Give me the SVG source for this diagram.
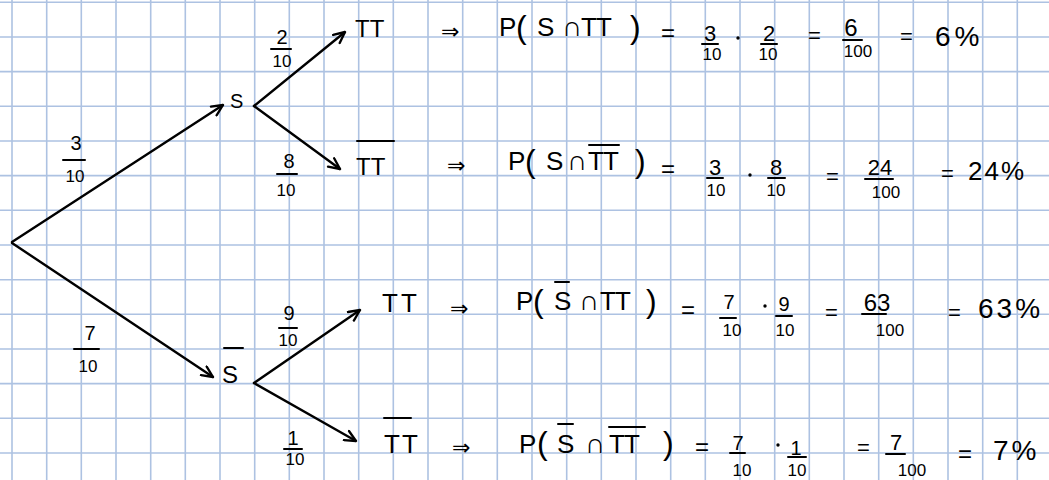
<svg xmlns="http://www.w3.org/2000/svg" width="1049" height="480" viewBox="0 0 1049 480">
<style>
.g{stroke:#adc2e2;stroke-width:1.6}
.t{font-family:"Liberation Sans","DejaVu Sans",sans-serif;fill:#000}
.c{text-anchor:middle}
.ln{stroke:#000;stroke-width:2.4;fill:none;stroke-linecap:round}
.bar{stroke:#000;stroke-width:2;stroke-linecap:round}
.s26{font-size:26px}.s24{font-size:24px}.s22{font-size:22px}.s20{font-size:20px}.s17{font-size:17px}.s28{font-size:28px}.s32{font-size:32px}
.cap{font-size:28px}
</style>
<defs>
<marker id="ah" viewBox="0 0 10 10" refX="9.5" refY="5" markerWidth="13" markerHeight="13" markerUnits="userSpaceOnUse" orient="auto">
<path d="M1,1 L9.5,5 L1,9" fill="none" stroke="#000" stroke-width="1.8" stroke-linecap="round" stroke-linejoin="round"/>
</marker>
</defs>
<rect width="1049" height="480" fill="#fff"/>
<g id="grid">
<path class="g" d="M12,0V480M46.7,0V480M81.3,0V480M116,0V480M150.7,0V480M185.3,0V480M220,0V480M254.7,0V480M289.3,0V480M324,0V480M358.7,0V480M393.3,0V480M428,0V480M462.7,0V480M497.3,0V480M532,0V480M566.7,0V480M601.3,0V480M636,0V480M670.7,0V480M705.3,0V480M740,0V480M774.7,0V480M809.3,0V480M844,0V480M878.7,0V480M913.3,0V480M948,0V480M982.7,0V480M1017.3,0V480"/>
<path class="g" d="M0,2.3H1049M0,37H1049M0,71.6H1049M0,106.3H1049M0,141H1049M0,175.6H1049M0,210.3H1049M0,245H1049M0,279.7H1049M0,314.3H1049M0,349H1049M0,383.6H1049M0,418.3H1049M0,453H1049"/>
</g>
<g id="connectors">
<line class="ln" x1="12" y1="242" x2="223" y2="105" marker-end="url(#ah)"/>
<line class="ln" x1="254" y1="106" x2="345" y2="32" marker-end="url(#ah)"/>
<line class="ln" x1="254" y1="106" x2="340" y2="169" marker-end="url(#ah)"/>
<line class="ln" x1="12" y1="243" x2="213" y2="377" marker-end="url(#ah)"/>
<line class="ln" x1="254" y1="383" x2="360" y2="310" marker-end="url(#ah)"/>
<line class="ln" x1="254" y1="383" x2="356" y2="441" marker-end="url(#ah)"/>
</g>
<g id="edge-labels">
<text class="t c s20" x="76" y="150">3</text><line class="bar" x1="63" y1="160" x2="85" y2="160"/><text class="t c s17" x="75" y="182">10</text>
<text class="t c s20" x="90" y="340">7</text><line class="bar" x1="74" y1="349" x2="99" y2="349"/><text class="t c s17" x="88" y="372">10</text>
<text class="t c s20" x="282" y="44">2</text><line class="bar" x1="271" y1="49" x2="291" y2="49"/><text class="t c s17" x="282" y="67">10</text>
<text class="t c s20" x="289" y="168">8</text><line class="bar" x1="277" y1="174" x2="297" y2="174"/><text class="t c s17" x="286" y="196">10</text>
<text class="t c s20" x="289" y="320">9</text><line class="bar" x1="279" y1="328" x2="297" y2="328"/><text class="t c s17" x="288" y="346">10</text>
<text class="t c s20" x="293" y="445">1</text><line class="bar" x1="284" y1="449" x2="302" y2="449"/><text class="t c s17" x="295" y="465">10</text>
</g>
<g id="node-S"><text class="t s20" x="230" y="108">S</text></g>
<g id="node-Sbar"><text class="t s24" x="222" y="383">S</text><line class="bar" x1="224" y1="348" x2="243" y2="348"/></g>
<g id="leaf-1">
<text class="t s24" x="355" y="37">TT</text>
<text class="t s22" x="441" y="39">⇒</text>
<text class="t s26" y="36"><tspan x="499">P</tspan><tspan x="537">S</tspan><tspan class="cap" x="562">∩</tspan><tspan x="581">T</tspan><tspan x="596">T</tspan></text>
<text class="t s32" x="516" y="38">(</text><text class="t s32" x="630" y="38">)</text>
<text class="t s24" x="661" y="41">=</text>
<text class="t c s22" x="710" y="41">3</text><line class="bar" x1="702" y1="44" x2="718" y2="44"/><text class="t c s17" x="712" y="60">10</text>
<circle cx="738" cy="38" r="1.7"/>
<text class="t c s22" x="769" y="41">2</text><line class="bar" x1="761" y1="44" x2="777" y2="44"/><text class="t c s17" x="768" y="60">10</text>
<text class="t s22" x="808" y="43">=</text>
<text class="t c s24" x="851" y="36">6</text><line class="bar" x1="843" y1="40" x2="862" y2="40"/><text class="t c s17" x="858" y="57">100</text>
<text class="t s22" x="900" y="44">=</text>
<text class="t s28" x="935" y="46" letter-spacing="4">6%</text>
</g>
<g id="leaf-2">
<text class="t s24" x="356" y="175">TT</text><line class="bar" x1="357" y1="141" x2="394" y2="141"/>
<text class="t s22" x="447" y="173">⇒</text>
<text class="t s26" y="170"><tspan x="508">P</tspan><tspan x="546">S</tspan><tspan class="cap" x="567">∩</tspan><tspan x="588">T</tspan><tspan x="603">T</tspan></text>
<text class="t s32" x="525" y="172">(</text><text class="t s32" x="635" y="172">)</text>
<line class="bar" x1="589" y1="145" x2="619" y2="145"/>
<text class="t s24" x="661" y="177">=</text>
<text class="t c s22" x="715" y="175">3</text><line class="bar" x1="707" y1="178" x2="723" y2="178"/><text class="t c s17" x="716" y="196">10</text>
<circle cx="750" cy="175" r="1.7"/>
<text class="t c s22" x="776" y="175">8</text><line class="bar" x1="768" y1="178" x2="785" y2="178"/><text class="t c s17" x="776" y="196">10</text>
<text class="t s22" x="826" y="184">=</text>
<text class="t c s22" x="880" y="175">24</text><line class="bar" x1="865" y1="179" x2="893" y2="179"/><text class="t c s17" x="886" y="198">100</text>
<text class="t s22" x="941" y="181">=</text>
<text class="t s26" x="968" y="180" letter-spacing="2">24%</text>
</g>
<g id="leaf-3">
<text class="t s26" x="382" y="312" letter-spacing="3">TT</text>
<text class="t s22" x="450" y="316">⇒</text>
<text class="t s26" y="310"><tspan x="516">P</tspan><tspan x="554">S</tspan><tspan class="cap" x="579">∩</tspan><tspan x="600">T</tspan><tspan x="615">T</tspan></text>
<text class="t s32" x="533" y="312">(</text><text class="t s32" x="646" y="312">)</text>
<line class="bar" x1="555" y1="282" x2="569" y2="282"/>
<text class="t s24" x="681" y="318">=</text>
<text class="t c s20" x="729" y="309">7</text><line class="bar" x1="720" y1="318" x2="736" y2="318"/><text class="t c s17" x="732" y="336">10</text>
<circle cx="765" cy="306" r="1.7"/>
<text class="t c s20" x="784" y="311">9</text><line class="bar" x1="776" y1="316" x2="792" y2="316"/><text class="t c s17" x="785" y="336">10</text>
<text class="t s22" x="825" y="320">=</text>
<text class="t c s24" x="877" y="311">63</text><line class="bar" x1="862" y1="314" x2="886" y2="314"/><text class="t c s17" x="890" y="336">100</text>
<text class="t s22" x="948" y="320">=</text>
<text class="t s28" x="978" y="318" letter-spacing="3">63%</text>
</g>
<g id="leaf-4">
<text class="t s26" x="384" y="453" letter-spacing="2">TT</text><line class="bar" x1="384" y1="418" x2="411" y2="418"/>
<text class="t s22" x="452" y="455">⇒</text>
<text class="t s26" y="453"><tspan x="519">P</tspan><tspan x="557">S</tspan><tspan class="cap" x="585">∩</tspan><tspan x="609">T</tspan><tspan x="624">T</tspan></text>
<text class="t s32" x="537" y="454">(</text><text class="t s32" x="663" y="454">)</text>
<line class="bar" x1="558" y1="424" x2="573" y2="424"/><line class="bar" x1="609" y1="427" x2="645" y2="427"/>
<text class="t s24" x="695" y="455">=</text>
<text class="t c s20" x="738" y="450">7</text><line class="bar" x1="730" y1="453" x2="745" y2="453"/><text class="t c s17" x="742" y="476">10</text>
<circle cx="778" cy="445" r="1.7"/>
<text class="t c s20" x="796" y="455">1</text><line class="bar" x1="788" y1="457" x2="806" y2="457"/><text class="t c s17" x="797" y="476">10</text>
<text class="t s22" x="857" y="455">=</text>
<text class="t c s22" x="896" y="450">7</text><line class="bar" x1="886" y1="454" x2="905" y2="454"/><text class="t c s17" x="912" y="476">100</text>
<text class="t s24" x="958" y="462">=</text>
<text class="t s28" x="993" y="460" letter-spacing="3">7%</text>
</g>
</svg>
